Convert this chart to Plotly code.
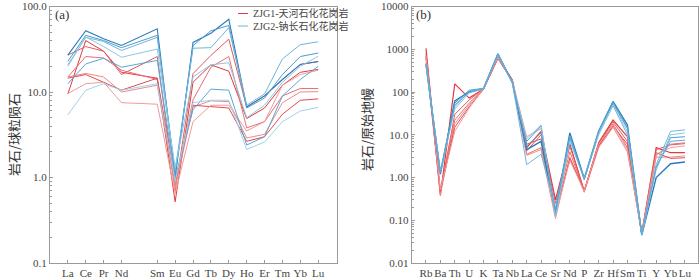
import plotly.graph_objects as go

# ---------------- data ----------------
ree_labels = ["La", "Ce", "Pr", "Nd", "Sm", "Eu", "Gd", "Tb", "Dy", "Ho", "Er", "Tm", "Yb", "Lu"]
ree_pos = [0, 1, 2, 3, 5, 6, 7, 8, 9, 10, 11, 12, 13, 14]

ree_zjg1 = [
    [9.5, 40, 30, 17, 14.5, 0.52, 13, 20.8, 17.5, 4.9, 6.5, 12, 17, 18.4],
    [27, 34, 30, 16, 26, 0.70, 16.4, 26.8, 41.5, 6.7, 9, 14, 21, 22.7],
    [15, 26, 25, 18, 14, 0.80, 8.1, 19.5, 26, 3.8, 4.5, 9, 11, 11],
    [15, 16.5, 15, 10, 12, 0.75, 6.7, 7.9, 7.7, 2.9, 3.2, 7.5, 10, 10.1],
    [14.5, 16, 13, 10.5, 14.5, 0.90, 7, 6.7, 6.5, 2.65, 3.0, 5.5, 8, 8.3],
    [9.6, 12.5, 13, 7.5, 7.2, 0.65, 4.5, 7, 7, 3.5, 4.5, 12, 16, 18],
]
ree_zjg2 = [
    [27, 52, 42, 35, 55, 1.0, 38, 48.7, 71, 6.7, 9, 14, 21, 22.7],
    [22.8, 46, 40, 33, 46, 1.1, 34.9, 52, 60, 6.5, 8.5, 16, 26, 28.6],
    [20.8, 43.6, 39, 30.6, 43.6, 1.2, 32.5, 33, 56.5, 7, 9.5, 24.4, 35.8, 38.7],
    [20, 44, 34, 25.5, 31.8, 1.3, 15, 20.8, 22, 5, 7, 13, 20, 26.2],
    [12.5, 21.3, 24.8, 19.5, 23.4, 1.0, 6.2, 10.8, 10.5, 2.4, 3.0, 9, 14, 20],
    [5.4, 10.5, 12.5, 10.5, 12.5, 0.9, 7.5, 8, 8, 2.13, 2.6, 4.5, 6, 6.6],
]

spd_labels = ["Rb", "Ba", "Th", "U", "K", "Ta", "Nb", "La", "Ce", "Sr", "Nd", "P",
              "Zr", "Hf", "Sm", "Ti", "Y", "Yb", "Lu"]
spd_zjg1 = [
    [1050, 0.38, 155, 72, 118, 650, 190, 5.0, 12, 0.30, 6.0, 0.48, 6.5, 22, 9, 0.050, 5.0, 3.8, 3.8],
    [800, 0.45, 30, 65, 120, 640, 195, 4.2, 10, 0.25, 5.5, 0.48, 6.0, 20, 7, 0.048, 4.5, 5.8, 6.2],
    [700, 0.50, 22, 55, 118, 620, 185, 3.5, 5.0, 0.18, 4.0, 0.47, 5.5, 18, 5, 0.046, 3.3, 6.0, 6.5],
    [600, 0.40, 18, 50, 120, 600, 180, 3.3, 4.5, 0.11, 3.0, 0.45, 5.0, 15, 4, 0.050, 3.0, 3.0, 3.2],
    [650, 0.48, 15, 45, 115, 620, 175, 6.0, 8.0, 0.15, 2.8, 0.50, 5.5, 16, 6, 0.047, 3.8, 2.8, 2.9],
    [700, 0.52, 12, 42, 118, 640, 185, 9.0, 14, 0.13, 2.5, 0.48, 6.0, 17, 4.5, 0.048, 3.5, 5.0, 5.5],
]
spd_zjg2 = [
    [450, 1.20, 62, 100, 120, 780, 170, 4.5, 7.0, 0.15, 11, 0.95, 12, 60, 17, 0.045, 1.0, 2.1, 2.3],
    [470, 1.40, 55, 110, 122, 750, 165, 7.0, 16, 0.13, 9.0, 0.90, 11, 55, 14, 0.045, 1.7, 8.5, 9.0],
    [430, 1.30, 45, 105, 120, 720, 160, 2.0, 3.5, 0.20, 8.0, 0.92, 10, 48, 10, 0.046, 2.0, 12, 13],
    [460, 1.35, 40, 95, 118, 760, 170, 8.0, 17, 0.12, 7.0, 0.93, 11, 50, 12, 0.045, 1.5, 10, 11],
    [440, 1.30, 50, 98, 120, 770, 168, 5.5, 11, 0.16, 9.5, 0.90, 12, 58, 15, 0.046, 1.8, 7.0, 7.5],
]

legend_names = ["ZJG1-天河石化花岗岩", "ZJG2-钠长石化花岗岩"]

red_colors = ["#e0393e", "#e35a5e", "#e86f72", "#ec8a8c", "#e24a4e", "#f09a9c"]
blue_colors = ["#2b7bba", "#4b9bd0", "#6fb5db", "#8cc6e2", "#5aa8d4", "#9fd2e8"]

# ---------------- figure ----------------
fig = go.Figure()

for i, ys in enumerate(ree_zjg1):
    fig.add_trace(go.Scatter(x=ree_pos, y=ys, mode="lines", xaxis="x", yaxis="y",
                             line=dict(color=red_colors[i % len(red_colors)], width=1),
                             showlegend=False))
for i, ys in enumerate(ree_zjg2):
    fig.add_trace(go.Scatter(x=ree_pos, y=ys, mode="lines", xaxis="x", yaxis="y",
                             line=dict(color=blue_colors[i % len(blue_colors)], width=1.1 if i == 0 else 1),
                             showlegend=False))

spd_pos = list(range(len(spd_labels)))
for i, ys in enumerate(spd_zjg1):
    fig.add_trace(go.Scatter(x=spd_pos, y=ys, mode="lines", xaxis="x2", yaxis="y2",
                             line=dict(color=red_colors[i % len(red_colors)], width=1.2 if i == 0 else 1),
                             showlegend=False))
for i, ys in enumerate(spd_zjg2):
    fig.add_trace(go.Scatter(x=spd_pos, y=ys, mode="lines", xaxis="x2", yaxis="y2",
                             line=dict(color=blue_colors[i % len(blue_colors)], width=1.4 if i == 0 else 1),
                             showlegend=False))

tickfont = dict(family="Liberation Serif", size=11, color="#444444")
axis_common = dict(showline=True, linecolor="#9a9a9a", linewidth=1, mirror=True,
                   showgrid=False, zeroline=False, ticks="inside", ticklen=3,
                   tickcolor="#9a9a9a", tickfont=tickfont, automargin=False, tickangle=0)

minor_vals_a = [m * 10 ** e for e in range(-1, 2) for m in range(2, 10)]
minor_vals_b = [m * 10 ** e for e in range(-2, 4) for m in range(2, 10)]

y_dom = [0.0573, 1 - 6.5 / 279]

fig.update_layout(
    width=700, height=279,
    margin=dict(l=0, r=0, t=0, b=0),
    paper_bgcolor="white", plot_bgcolor="white",
    xaxis=dict(domain=[0.0714, 0.4814], range=[-1, 15.05],
               tickmode="array", tickvals=ree_pos, ticktext=ree_labels, **axis_common),
    yaxis=dict(domain=y_dom, type="log", range=[-1, 2],
               tickmode="array", tickvals=[0.1, 1, 10, 100],
               ticktext=["0.1", "1.0", "10.0", "100.0"],
               minor=dict(tickmode="array", tickvals=minor_vals_a, ticks="inside",
                          ticklen=2, tickcolor="#9a9a9a", showgrid=False),
               **axis_common),
    xaxis2=dict(domain=[0.588, 0.997], range=[-1, 18.9], anchor="y2",
                tickmode="array", tickvals=spd_pos, ticktext=spd_labels, **axis_common),
    yaxis2=dict(domain=y_dom, type="log", range=[-2, 4], anchor="x2",
                tickmode="array", tickvals=[0.01, 0.1, 1, 10, 100, 1000, 10000],
                ticktext=["0.01", "0.10", "1.00", "10.0", "100", "1000", "10000"],
                minor=dict(tickmode="array", tickvals=minor_vals_b, ticks="inside",
                           ticklen=2, tickcolor="#9a9a9a", showgrid=False),
                **axis_common),
    showlegend=False,
)

# panel labels
fig.add_annotation(text="(a)", xref="paper", yref="paper", x=53 / 700, y=1 - 14 / 279,
                   xanchor="left", yanchor="middle", showarrow=False,
                   font=dict(family="Liberation Serif", size=13, color="#333333"))
fig.add_annotation(text="(b)", xref="paper", yref="paper", x=414 / 700, y=1 - 14 / 279,
                   xanchor="left", yanchor="middle", showarrow=False,
                   font=dict(family="Liberation Serif", size=13, color="#333333"))

# axis titles
fig.add_annotation(text="岩石/球粒陨石", xref="paper", yref="paper", x=13 / 700, y=1 - 135 / 279,
                   textangle=-90, showarrow=False, xanchor="center", yanchor="middle",
                   font=dict(family="Noto Sans CJK SC", size=13, color="#333333"))
fig.add_annotation(text="岩石/原始地幔", xref="paper", yref="paper", x=366 / 700, y=1 - 130 / 279,
                   textangle=-90, showarrow=False, xanchor="center", yanchor="middle",
                   font=dict(family="Noto Sans CJK SC", size=13, color="#333333"))

# legend (manual)
leg_colors = ["#e0393e", "#6fb5db"]
for k, (name, col) in enumerate(zip(legend_names, leg_colors)):
    yy = 1 - (13.5 + 12.5 * k) / 279
    fig.add_shape(type="line", xref="paper", yref="paper", x0=238 / 700, x1=248 / 700,
                  y0=yy, y1=yy, line=dict(color=col, width=1))
    fig.add_annotation(text=name, xref="paper", yref="paper", x=251 / 700, y=yy,
                       xanchor="left", yanchor="middle", showarrow=False,
                       font=dict(family="Liberation Serif, Noto Sans CJK SC", size=10, color="#444444"))

fig.write_html("out.html", config={"displayModeBar": False},
               post_script="document.body.style.margin='0';document.body.style.overflow='hidden';")
